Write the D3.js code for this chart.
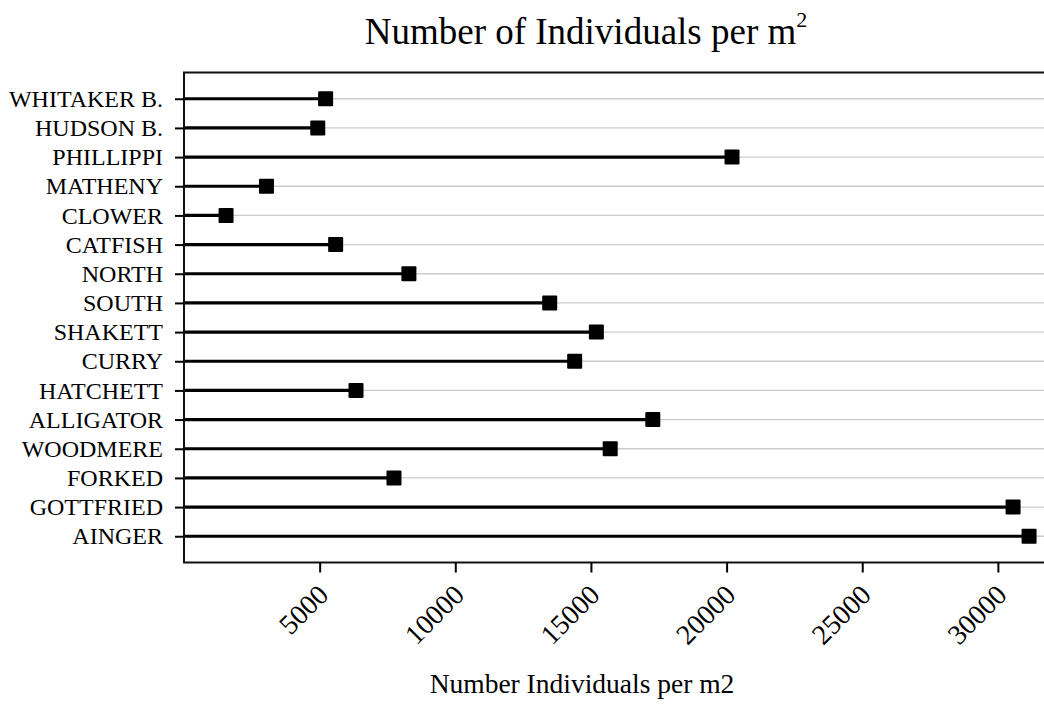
<!DOCTYPE html>
<html>
<head>
<meta charset="utf-8">
<script src="https://cdn.jsdelivr.net/npm/d3@7"></script>
<style>
  html, body { margin: 0; padding: 0; background: #fff; }
  svg { display: block; font-family: "Liberation Serif", "Times New Roman", serif; }
</style>
</head>
<body>
<svg id="chart" width="1044" height="705"></svg>
<script>
const categories = ["WHITAKER B.", "HUDSON B.", "PHILLIPPI", "MATHENY", "CLOWER", "CATFISH", "NORTH", "SOUTH",
  "SHAKETT", "CURRY", "HATCHETT", "ALLIGATOR", "WOODMERE", "FORKED", "GOTTFRIED", "AINGER"];
const values = [5220, 4930, 20200, 3040, 1550, 5590, 8290, 13480,
  15200, 14400, 6340, 17280, 15710, 7740, 30560, 31150];
const xTicks = [5000, 10000, 15000, 20000, 25000, 30000];
const titleText = "Number of Individuals per m";
const titleSup = "2";
const xTitle = "Number Individuals per m2";

(function () {
const svg = d3.select("#chart");
const pl = 184, pr = 1044, pt = 72.5, pb = 562.5;
const serif = "'Liberation Serif', 'Times New Roman', serif";

const x = d3.scaleLinear().domain([0, 31700]).range([pl, pr]);
const y = d3.scalePoint().domain(categories).range([pt, pb]).padding(0.9);

// gridlines
svg.append("g").selectAll("line").data(categories).join("line")
  .attr("x1", pl).attr("x2", pr)
  .attr("y1", d => y(d)).attr("y2", d => y(d))
  .attr("stroke", "#cccccc").attr("stroke-width", 1.3);

// lollipop stems
svg.append("g").selectAll("line").data(categories).join("line")
  .attr("x1", x(0)).attr("x2", (d, i) => x(values[i]))
  .attr("y1", d => y(d)).attr("y2", d => y(d))
  .attr("stroke", "#000").attr("stroke-width", 3.2);

// markers
const ms = 15;
svg.append("g").selectAll("rect").data(categories).join("rect")
  .attr("x", (d, i) => x(values[i]) - ms / 2)
  .attr("y", d => y(d) - ms / 2)
  .attr("width", ms).attr("height", ms)
  .attr("rx", 1)
  .attr("fill", "#000");

// frame: top, left, bottom
svg.append("path")
  .attr("d", `M${pr + 5},${pt}H${pl}V${pb}H${pr + 5}`)
  .attr("fill", "none").attr("stroke", "#111").attr("stroke-width", 2);

// y axis
const yAxis = d3.axisLeft(y).tickSize(9).tickPadding(12);
const gy = svg.append("g").attr("transform", `translate(${pl},0)`).call(yAxis);
gy.select(".domain").remove();
gy.selectAll(".tick line").attr("stroke", "#000").attr("stroke-width", 2);
gy.selectAll(".tick text").attr("font-size", 24).attr("fill", "#000")
  .attr("font-family", serif);

// x axis
const xAxis = d3.axisBottom(x).tickValues(xTicks).tickSize(10).tickFormat(d3.format("d"));
const gx = svg.append("g").attr("transform", `translate(0,${pb})`).call(xAxis);
gx.select(".domain").remove();
gx.selectAll(".tick line").attr("stroke", "#000").attr("stroke-width", 2);
gx.selectAll(".tick text")
  .attr("font-size", 28).attr("fill", "#000")
  .attr("font-family", serif)
  .attr("text-anchor", "end")
  .attr("y", 0).attr("dy", 0)
  .attr("transform", "translate(10,34) rotate(-45)");

// title
const t = svg.append("text")
  .attr("x", 586).attr("y", 44)
  .attr("text-anchor", "middle")
  .attr("font-family", serif)
  .attr("font-size", 37).attr("fill", "#000");
t.append("tspan").text(titleText);
t.append("tspan").attr("font-size", 22).attr("dy", -17).text(titleSup);

// x axis title
svg.append("text")
  .attr("x", 582).attr("y", 693)
  .attr("text-anchor", "middle")
  .attr("font-family", serif)
  .attr("font-size", 27.5).attr("fill", "#000")
  .text(xTitle);
})();
</script>
</body>
</html>
